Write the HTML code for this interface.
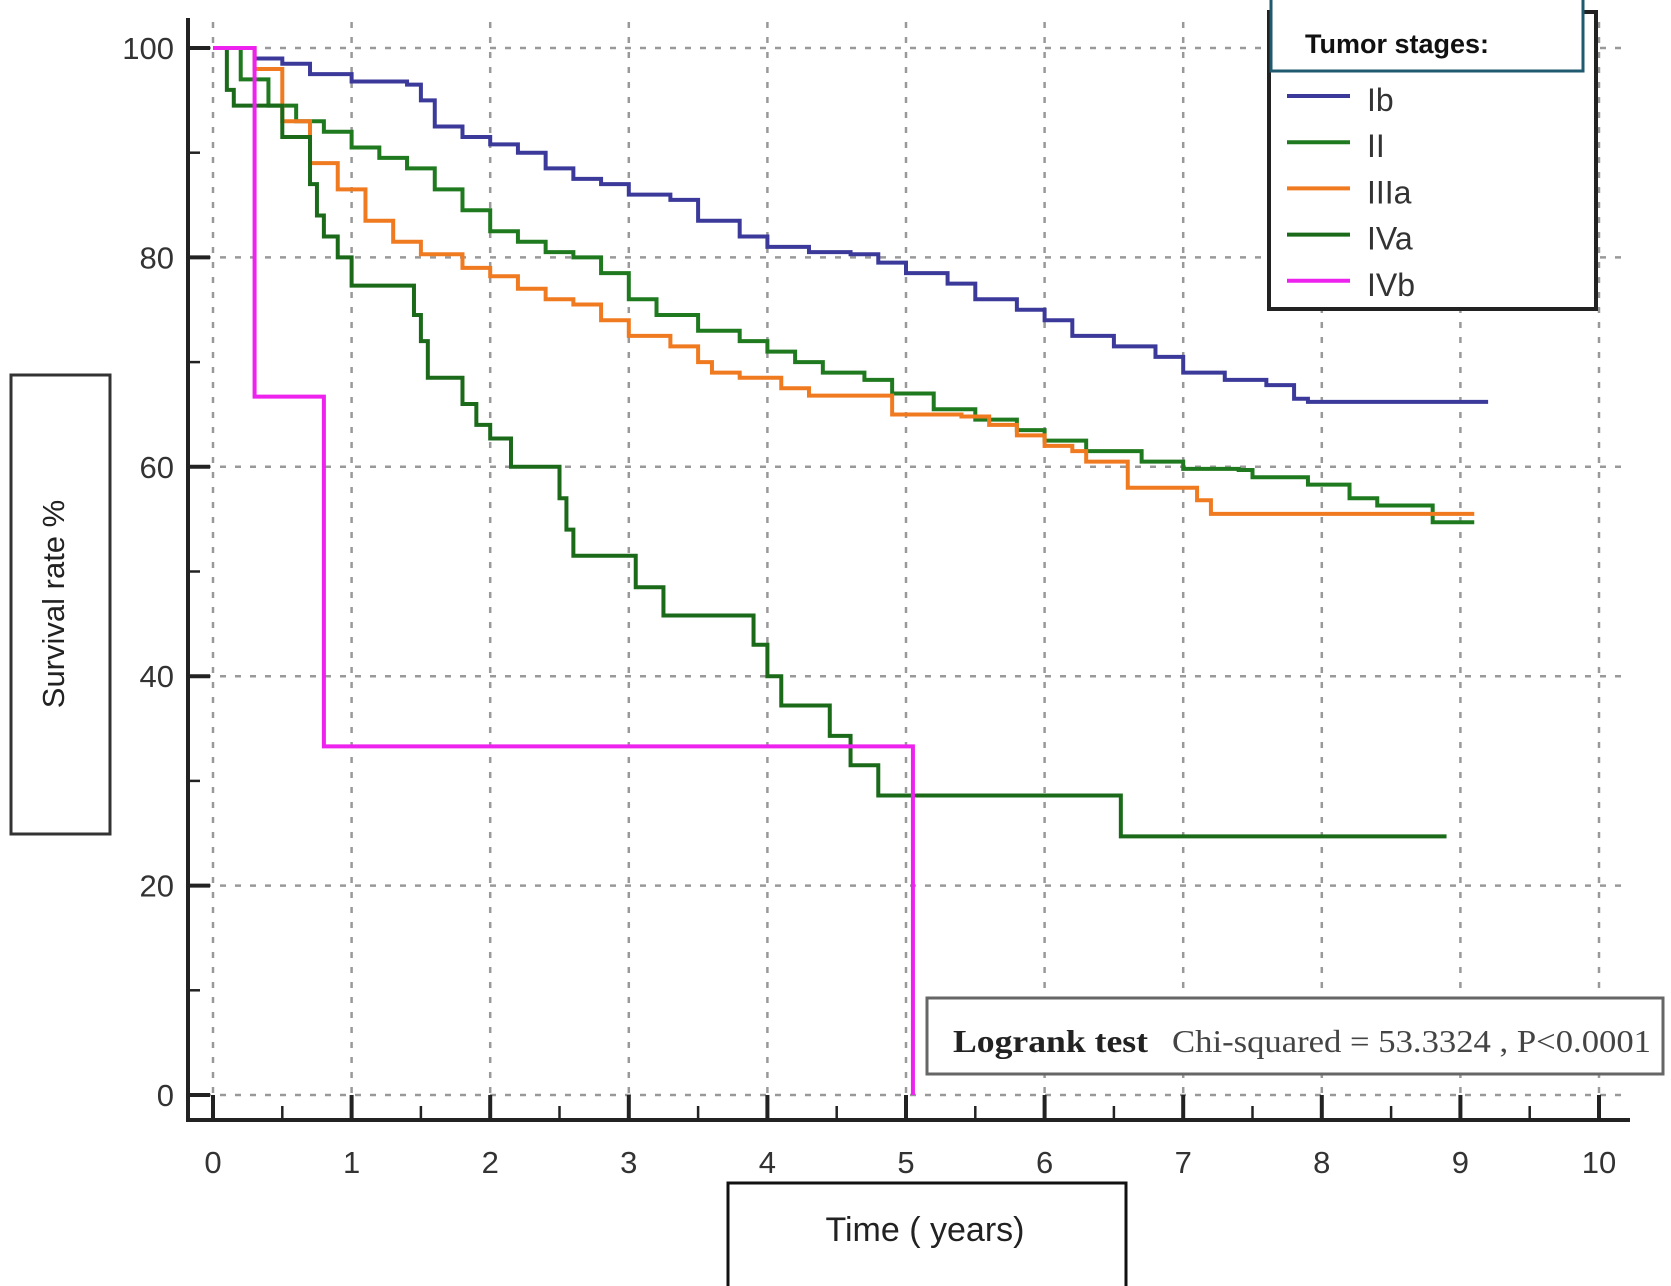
<!DOCTYPE html>
<html><head><meta charset="utf-8"><style>
html,body{margin:0;padding:0;background:#fff;}
svg{display:block;}
</style></head><body>
<svg id="chart" width="1671" height="1286" viewBox="0 0 1671 1286" xmlns="http://www.w3.org/2000/svg" font-family="Liberation Sans, sans-serif">
<g id="grid"></g>
<g id="axes"></g>
<g id="series"></g>
<g>
<rect x="11" y="375" width="99" height="459" fill="#fff" stroke="#333" stroke-width="3"/>
<text x="0" y="0" transform="translate(64,604) rotate(-90)" text-anchor="middle" font-size="31" fill="#222">Survival rate %</text>
</g>
<g>
<path d="M728 1290 V1183 H1126 V1290" fill="#fff" stroke="#111" stroke-width="3"/>
<text x="925" y="1241" text-anchor="middle" font-size="34" fill="#222">Time ( years)</text>
</g>
<g>
<rect x="927" y="998" width="736" height="76" fill="#fff" stroke="#666" stroke-width="3"/>
<text x="953" y="1052" font-family="Liberation Serif, serif" font-size="32" font-weight="bold" fill="#222" textLength="195" lengthAdjust="spacingAndGlyphs">Logrank test</text>
<text x="1172" y="1052" font-family="Liberation Serif, serif" font-size="32" fill="#444" textLength="479" lengthAdjust="spacingAndGlyphs">Chi-squared = 53.3324 , P&lt;0.0001</text>
</g>
<g>
<rect x="1269" y="12" width="327" height="297" fill="#fff" stroke="#222" stroke-width="4"/>
<rect x="1271" y="-2" width="312" height="73" fill="#fff" stroke="#1f5a6e" stroke-width="3"/>
<text x="1305" y="53" font-size="27" font-weight="bold" fill="#111">Tumor stages:</text>
<g id="legend-items"></g>
</g>
</svg>
<script>
var stageNames = ["Ib","II","IIIa","IVa","IVb"];
var stageColors = ["#3b3a9a","#1f7a1f","#f07a20","#1a6a1a","#ee22ee"];
var timesIb = [0,0.3,0.5,0.7,1,1.4,1.5,1.6,1.8,2,2.2,2.4,2.6,2.8,3,3.3,3.5,3.8,4,4.3,4.6,4.8,5,5.3,5.5,5.8,6,6.2,6.5,6.8,7,7.3,7.6,7.8,7.9,9.2];
var survIb  = [100,99,98.5,97.5,96.8,96.5,95,92.5,91.5,90.8,90,88.5,87.5,87,86,85.5,83.5,82,81,80.5,80.3,79.5,78.5,77.5,76,75,74,72.5,71.5,70.5,69,68.3,67.8,66.5,66.2,66.2];
var timesII = [0,0.2,0.4,0.6,0.8,1,1.2,1.4,1.6,1.8,2,2.2,2.4,2.6,2.8,3,3.2,3.5,3.8,4,4.2,4.4,4.7,4.9,5.2,5.5,5.8,6,6.3,6.7,7,7.4,7.5,7.9,8.2,8.4,8.8,9.1];
var survII  = [100,97,94.5,93,92,90.5,89.5,88.5,86.5,84.5,82.5,81.5,80.5,80,78.5,76,74.5,73,72,71,70,69,68.3,67,65.5,64.5,63.5,62.5,61.5,60.5,59.8,59.7,59,58.3,57,56.3,54.7,54.7];
var timesIIIa = [0,0.3,0.5,0.7,0.9,1.1,1.3,1.5,1.8,2,2.2,2.4,2.6,2.8,3,3.3,3.5,3.6,3.8,4.1,4.3,4.9,5.4,5.6,5.8,6,6.2,6.3,6.6,7.1,7.2,9.1];
var survIIIa  = [100,98,93,89,86.5,83.5,81.5,80.3,79,78.2,77,76,75.5,74,72.5,71.5,70,69,68.5,67.5,66.8,65,64.8,64,63,62,61.5,60.5,58,56.8,55.5,55.5];
var timesIVa = [0,0.1,0.15,0.5,0.7,0.75,0.8,0.9,1,1.45,1.5,1.55,1.8,1.9,2,2.15,2.5,2.55,2.6,3.05,3.25,3.9,4.0,4.1,4.45,4.6,4.8,6.55,8.9];
var survIVa  = [100,96,94.5,91.5,87,84,82,80,77.3,74.5,72,68.5,66,64,62.7,60,57,54,51.5,48.5,45.8,43,40,37.2,34.3,31.5,28.6,24.7,24.7];
var timesIVb = [0,0.3,0.8,5.05];
var survIVb  = [100,66.7,33.3,0];
var xTicks = [0,1,2,3,4,5,6,7,8,9,10];
var yTicks = [0,20,40,60,80,100];

var NS = "http://www.w3.org/2000/svg";
function X(t){ return 213 + t*138.6; }
function Y(s){ return 1095 - s*10.47; }
function mk(tag, attrs, parent){ var e=document.createElementNS(NS,tag); for(var k in attrs) e.setAttribute(k,attrs[k]); parent.appendChild(e); return e; }

var grid=document.getElementById('grid');
xTicks.forEach(function(t){
  var l=mk('line',{x1:X(t),x2:X(t),y1:22,y2:1116,stroke:'#999','stroke-width':2.5,'stroke-dasharray':'6 9'},grid);
  
  
});
yTicks.forEach(function(v){
  var l=mk('line',{x1:190,x2:1625,y1:Y(v),y2:Y(v),stroke:'#999','stroke-width':2.5,'stroke-dasharray':'6 9'},grid);
  
  
});

var axes=document.getElementById('axes');
var ya=mk('line',{x1:188,x2:188,y1:18,y2:1122,stroke:'#222','stroke-width':4},axes);


var xa=mk('line',{x1:186,x2:1630,y1:1120,y2:1120,stroke:'#222','stroke-width':4},axes);


yTicks.forEach(function(v){
  mk('line',{x1:188,x2:210,y1:Y(v),y2:Y(v),stroke:'#222','stroke-width':4},axes);
  if(v<100) mk('line',{x1:188,x2:200,y1:Y(v+10),y2:Y(v+10),stroke:'#222','stroke-width':2.5},axes);
  var tx=mk('text',{x:174,y:Y(v)+11,'text-anchor':'end','font-size':31,fill:'#333'},axes);
  tx.textContent=v;
  
  
});
xTicks.forEach(function(t){
  mk('line',{x1:X(t),x2:X(t),y1:1120,y2:1095,stroke:'#222','stroke-width':4},axes);
  if(t<10) mk('line',{x1:X(t+0.5),x2:X(t+0.5),y1:1120,y2:1106,stroke:'#222','stroke-width':2.5},axes);
  var tx=mk('text',{x:X(t),y:1173,'text-anchor':'middle','font-size':31,fill:'#333'},axes);
  tx.textContent=t;
  
  
});

var seriesT=[timesIb,timesII,timesIIIa,timesIVa,timesIVb];
var seriesS=[survIb,survII,survIIIa,survIVa,survIVb];
var sg=document.getElementById('series');
for(var i=0;i<seriesT.length;i++){
  var T=seriesT[i], S=seriesS[i];
  var d='M'+X(T[0])+' '+Y(S[0]);
  for(var j=1;j<T.length;j++){ d+=' H'+X(T[j])+' V'+Y(S[j]); }
  var p=mk('path',{d:d,fill:'none',stroke:stageColors[i],'stroke-width':4},sg);
  
  
}

var li=document.getElementById('legend-items');
stageNames.forEach(function(n,i){
  var y=99+i*46.2;
  var g=mk('g',{},li);
  
  
  mk('line',{x1:1287,x2:1350,y1:y-3,y2:y-3,stroke:stageColors[i],'stroke-width':4},g);
  var t=mk('text',{x:1367,y:y+12,'font-size':32,fill:'#333'},g);
  t.textContent=n;
});
</script>
</body></html>
